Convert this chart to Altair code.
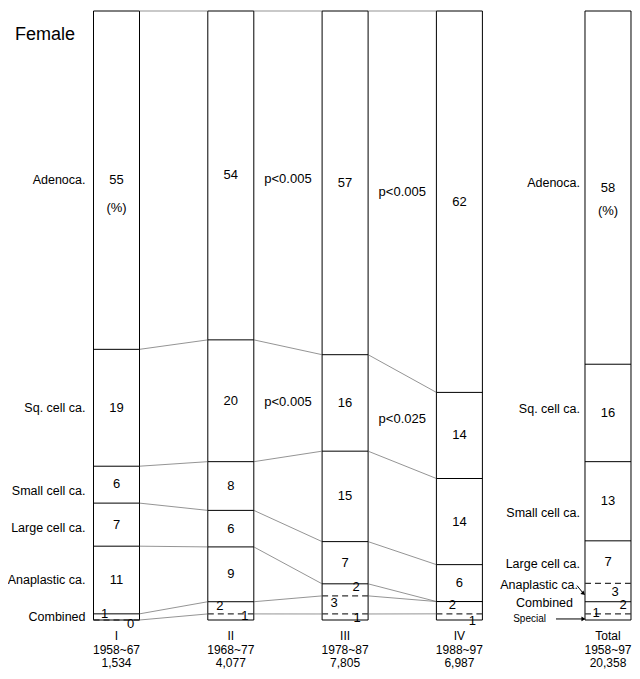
import altair as alt
import pandas as pd

# ---------------- data ----------------
columns = ["I", "II", "III", "IV", "Total"]
periods = ["1958~67", "1968~77", "1978~87", "1988~97", "1958~97"]
counts = ["1,534", "4,077", "7,805", "6,987", "20,358"]
types = ["Adenoca.", "Sq. cell ca.", "Small cell ca.", "Large cell ca.",
         "Anaplastic ca.", "Combined", "Special"]
val_I = [55, 19, 6, 7, 11, 1, 0]
val_II = [54, 20, 8, 6, 9, 2, 1]
val_III = [57, 16, 15, 7, 2, 3, 1]
val_IV = [62, 14, 14, 6, 0, 2, 1]
val_Total = [58, 16, 13, 7, 3, 2, 1]
p_adeno = ["", "p<0.005", "p<0.005"]   # between I-II, II-III, III-IV
p_sq = ["", "p<0.005", "p<0.025"]
title_text = "Female"

# ---------------- layout ----------------
W, H = 624, 663
PX_X, PX_Y = 114.3, 6.09
TOP = 3            # plot-area pixel of the bars' top
slot = [0, 1, 2, 3, 4.30]
HALF = 23 / PX_X
x_dom = [-108.5 / PX_X, (W - 108.5) / PX_X]
y_dom = [100 - (H - TOP) / PX_Y, 100 + TOP / PX_Y]
FONT = "Liberation Sans"

def py(page_y):
    return 100 - (page_y - 8 - TOP) / PX_Y

# offsets (dx, dy) in pixels for small value labels
val_off = {
    ("I", "Combined"): (-12, -3), ("I", "Special"): (14, 4),
    ("II", "Combined"): (-11, -2), ("II", "Special"): (14, -1),
    ("III", "Anaplastic ca."): (11, -3), ("III", "Combined"): (-11, -2),
    ("III", "Special"): (12, 1),
    ("IV", "Combined"): (-7, -3), ("IV", "Special"): (13, 4),
    ("Total", "Anaplastic ca."): (7, -1), ("Total", "Combined"): (15, -3),
    ("Total", "Special"): (-12, -4),
    ("I", "Small cell ca."): (0, -1),
}
hidden = {("IV", "Anaplastic ca.")}
left_off = {"Small cell ca.": 6, "Large cell ca.": 3}
right_off = {"Adenoca.": (0, -5), "Sq. cell ca.": (0, -4), "Small cell ca.": (0, 12),
             "Large cell ca.": (0, 2), "Anaplastic ca.": (-2, -8),
             "Combined": (-7, -5), "Special": (-34, 2)}

vals = [val_I, val_II, val_III, val_IV, val_Total]
seg, bnd = [], {}
for c, (col, v) in enumerate(zip(columns, vals)):
    tot = sum(v)
    top = 100.0
    bnd[c] = [100.0]
    for k, (t, val) in enumerate(zip(types, v)):
        h = val / tot * 100
        seg.append(dict(col=col, c=c, type=t, k=k, val=val, top=top,
                        bot=top - h, mid=top - h / 2))
        top -= h
        if k < 6:
            bnd[c].append(top)
seg = pd.DataFrame(seg)

# bar outlines
bars = pd.DataFrame(dict(x=[s - HALF for s in slot], x2=[s + HALF for s in slot],
                         y=[0] * 5, y2=[100] * 5))

# inner boundaries
inner = []
for c in range(5):
    for k in range(1, 7):
        dashed = (k == 6) or (k == 5 and columns[c] == "III") or (k == 4 and columns[c] == "Total")
        inner.append(dict(x=slot[c] - HALF, x2=slot[c] + HALF, y=bnd[c][k], dashed=dashed))
inner = pd.DataFrame(inner)

# connectors
conn = []
for c in range(3):
    for k in range(7):
        conn.append(dict(x=slot[c] + HALF, x2=slot[c + 1] - HALF,
                         y=bnd[c][k], y2=bnd[c + 1][k]))
conn = pd.DataFrame(conn)

# value labels
vl = []
for r in seg.itertuples():
    if (r.col, r.type) in hidden:
        continue
    dx, dy = val_off.get((r.col, r.type), (0, 0))
    vl.append(dict(x=slot[r.c] + dx / PX_X, y=r.mid - dy / PX_Y, text=str(r.val)))
for col, dy in (("I", 28), ("Total", 23)):
    r = seg[(seg.col == col) & (seg.type == "Adenoca.")].iloc[0]
    vl.append(dict(x=slot[r.c], y=r.mid - dy / PX_Y, text="(%)"))
vl = pd.DataFrame(vl)

# category labels
cl = []
for r in seg[seg.col == "I"].itertuples():
    if r.type == "Special":
        continue
    cl.append(dict(x=slot[0] - HALF - 8 / PX_X, y=r.mid - left_off.get(r.type, 0) / PX_Y,
                   text=r.type, small=False))
for r in seg[seg.col == "Total"].itertuples():
    dx, dy = right_off[r.type]
    cl.append(dict(x=slot[4] - HALF + (dx - 5) / PX_X, y=r.mid - dy / PX_Y,
                   text=r.type, small=(r.type == "Special")))
cl = pd.DataFrame(cl)

# p-values
pv = []
for i in range(3):
    for t, lab in ((0, p_adeno[i]), (1, p_sq[i])):
        if not lab:
            continue
        m1 = seg[(seg.c == i) & (seg.k == t)].mid.iloc[0]
        m2 = seg[(seg.c == i + 1) & (seg.k == t)].mid.iloc[0]
        pv.append(dict(x=(slot[i] + slot[i + 1]) / 2, y=(m1 + m2) / 2, text=lab))
pv = pd.DataFrame(pv)

# arrows for Total
tot_seg = seg[seg.col == "Total"].set_index("type")
a_tip_x = slot[4] - HALF - 1.5 / PX_X
arrows = pd.DataFrame([
    dict(x=slot[4] - HALF - 8 / PX_X, y=tot_seg.loc["Anaplastic ca.", "mid"] + 7 / PX_Y,
         x2=a_tip_x, y2=tot_seg.loc["Anaplastic ca.", "mid"] - 1 / PX_Y, ang=40),
    dict(x=slot[4] - HALF - 29 / PX_X, y=tot_seg.loc["Special", "mid"] - 2 / PX_Y,
         x2=a_tip_x, y2=tot_seg.loc["Special", "mid"] - 2 / PX_Y, ang=0),
])

# x labels
xl = []
for c in range(5):
    for j, t in enumerate((columns[c], periods[c], counts[c])):
        xl.append(dict(x=slot[c], y=py(636 + 13.5 * j), text=t))
xl = pd.DataFrame(xl)

# ---------------- chart ----------------
X = alt.X("x:Q", scale=alt.Scale(domain=x_dom, nice=False, zero=False), axis=None)
Y = alt.Y("y:Q", scale=alt.Scale(domain=y_dom, nice=False, zero=False), axis=None)

l_bars = alt.Chart(bars).mark_rect(fill="white", stroke="black", strokeWidth=1).encode(
    x=X, x2="x2:Q", y=Y, y2="y2:Q")
l_inner_s = alt.Chart(inner[~inner.dashed]).mark_rule(color="black", strokeWidth=1).encode(
    x=X, x2="x2:Q", y=Y)
l_inner_d = alt.Chart(inner[inner.dashed]).mark_rule(color="#333", strokeWidth=1.3,
                                                     strokeDash=[6, 4]).encode(
    x=X, x2="x2:Q", y=Y)
l_conn = alt.Chart(conn).mark_rule(color="#666", strokeWidth=0.7).encode(
    x=X, x2="x2:Q", y=Y, y2="y2:Q")
l_vals = alt.Chart(vl).mark_text(font=FONT, fontSize=13, color="black",
                                 baseline="middle").encode(x=X, y=Y, text="text:N")
l_cats = alt.Chart(cl[~cl.small]).mark_text(font=FONT, fontSize=12.5, color="black",
                                            align="right", baseline="middle").encode(
    x=X, y=Y, text="text:N")
l_cats_s = alt.Chart(cl[cl.small]).mark_text(font=FONT, fontSize=10, color="black",
                                             align="right", baseline="middle").encode(
    x=X, y=Y, text="text:N")
l_p = alt.Chart(pv).mark_text(font=FONT, fontSize=13, color="black",
                              baseline="middle").encode(x=X, y=Y, text="text:N")
l_arr = alt.Chart(arrows).mark_rule(color="black", strokeWidth=1).encode(
    x=X, x2="x2:Q", y=Y, y2="y2:Q")
l_head = alt.Chart(arrows).mark_point(shape="triangle-right", filled=True, color="black",
                                      size=22, opacity=1).encode(
    x=alt.X("x2:Q", scale=alt.Scale(domain=x_dom, nice=False, zero=False), axis=None),
    y=alt.Y("y2:Q", scale=alt.Scale(domain=y_dom, nice=False, zero=False), axis=None),
    angle=alt.Angle("ang:Q", scale=None))
l_xl = alt.Chart(xl).mark_text(font=FONT, fontSize=12, color="black",
                               baseline="middle").encode(x=X, y=Y, text="text:N")
l_title = alt.Chart(pd.DataFrame(dict(text=[title_text]))).mark_text(
    font=FONT, fontSize=18, color="black", align="left", baseline="middle").encode(
    x=alt.value(7), y=alt.value(27), text="text:N")

chart = alt.layer(l_bars, l_conn, l_inner_s, l_inner_d, l_vals, l_cats, l_cats_s, l_p,
                  l_arr, l_head, l_xl, l_title).properties(
    width=W, height=H, autosize="none", padding=0, background="white"
).configure_view(stroke=None)

chart.save("out.html", embed_options={"renderer": "svg", "actions": False})
